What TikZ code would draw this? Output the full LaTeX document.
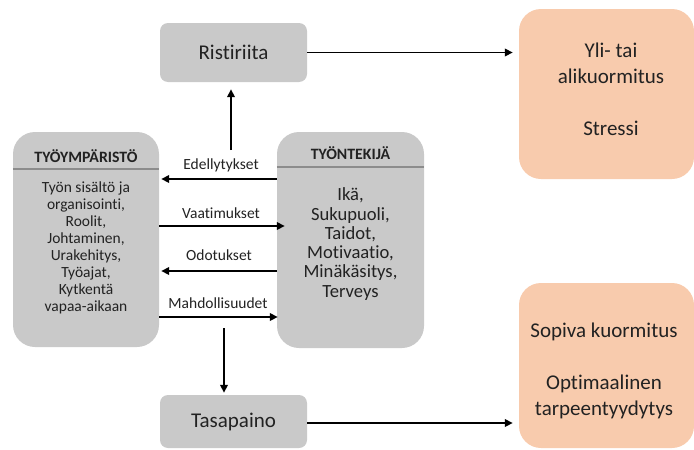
\documentclass[tikz,border=0pt]{standalone}
\usepackage{fontspec}
\setmainfont{Carlito}[Ligatures={NoCommon}]
\usetikzlibrary{arrows.meta}
\definecolor{boxgray}{HTML}{C9C9C9}
\definecolor{linegray}{HTML}{8C8C8C}
\definecolor{peach}{HTML}{F8CBAD}
\definecolor{ink}{HTML}{222222}
\tikzset{
  smallbox/.style={fill=boxgray, rounded corners=8pt, minimum width=147pt, minimum height=59pt, inner sep=0pt, text=ink, font=\fontsize{21}{25}\selectfont},
  bigbox/.style={fill=boxgray, rounded corners=22pt, minimum width=146pt, minimum height=215pt, inner sep=0pt},
  resbox/.style={fill=peach, rounded corners=22pt, minimum width=175pt, inner sep=0pt},
  restext/.style={text=ink, align=center, font=\fontsize{21}{26}\selectfont, inner sep=0pt},
  titletext/.style={text=ink, font=\bfseries\fontsize{15.8}{18}\selectfont, inner sep=0pt},
  lbl/.style={text=ink, font=\fontsize{15.5}{18}\selectfont, inner sep=0pt},
  conn/.style={line width=1.8pt, -{Triangle[length=8pt,width=7.5pt]}},
  hdr/.style={draw=linegray, line width=1.5pt}
}
\begin{document}
\begin{tikzpicture}[x=1pt,y=-1pt]
\useasboundingbox (0,0) rectangle (694,450);
% gray boxes
\node[smallbox] (rist) at (233.5,52.5) {Ristiriita};
\node[smallbox, minimum height=53pt] (tasa) at (233.5,421.5) {Tasapaino};
\node[bigbox] (env) at (86,239.5) {};
\node[bigbox, minimum width=147pt, minimum height=216pt] (emp) at (350.5,240) {};
% headers
\node[titletext] (envT) at (86,156) {TYÖYMPÄRISTÖ};
\node[titletext] (empT) at (350.5,153) {TYÖNTEKIJÄ};
\draw[hdr] (env.west |- 0,169) -- (env.east |- 0,169);
\draw[hdr] (emp.west |- 0,167) -- (emp.east |- 0,167);
% bodies
\node[text=ink, align=center, inner sep=0pt, font=\fontsize{15.5}{17}\selectfont] (envB) at (86,248)
  {Työn sisältö ja\\organisointi,\\Roolit,\\Johtaminen,\\Urakehitys,\\Työajat,\\Kytkentä\\vapaa-aikaan};
\node[text=ink, align=center, inner sep=0pt, font=\fontsize{18.6}{19.3}\selectfont] (empB) at (350.5,244)
  {Ikä,\\Sukupuoli,\\Taidot,\\Motivaatio,\\Minäkäsitys,\\Terveys};
% result boxes
\node[resbox, minimum height=170pt] (stress) at (606.5,94) {};
\node[restext] (stressT) at (611,89.5) {Yli- tai\\alikuormitus\\[26pt]Stressi};
\node[resbox, minimum height=165pt] (sopiva) at (606.5,365.5) {};
\node[restext] (sopivaT) at (604,371) {Sopiva kuormitus\\[26pt]Optimaalinen\\tarpeentyydytys};
% labels
\node[lbl] (l1) at (221,165) {Edellytykset};
\node[lbl] (l2) at (221,213) {Vaatimukset};
\node[lbl] (l3) at (219,255) {Odotukset};
\node[lbl] (l4) at (218,303) {Mahdollisuudet};
% connectors
\coordinate (upstart) at (231,150);
\coordinate (downstart) at (224,328);
\draw[conn, shorten >=7pt] (upstart) -- (upstart |- rist.south);
\draw[conn, shorten >=2pt] (downstart) -- (downstart |- tasa.north);
\draw[conn, shorten >=6pt] (rist.east) -- (stress.west |- rist.east);
\draw[conn, shorten >=6pt] (tasa.east |- 0,423) -- (sopiva.west |- 0,423);
\draw[conn, shorten >=2pt] (emp.west |- 0,179) -- (env.east |- 0,179);
\draw[conn, shorten >=-8pt] (env.east |- 0,226) -- (emp.west |- 0,226);
\draw[conn, shorten >=2pt] (emp.west |- 0,271) -- (env.east |- 0,271);
\draw[conn, shorten >=-1pt] (env.east |- 0,317) -- (emp.west |- 0,317);
\end{tikzpicture}
\end{document}
